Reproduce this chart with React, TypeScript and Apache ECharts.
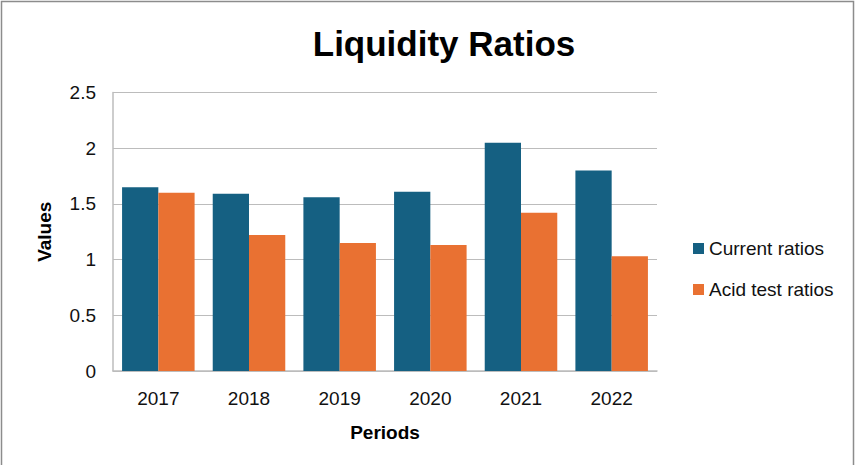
import React, { useEffect, useRef } from "react";
import * as echarts from "echarts";

const periods = ["2017", "2018", "2019", "2020", "2021", "2022"];
const currentRatios = [1.65, 1.59, 1.56, 1.61, 2.05, 1.8];
const acidTestRatios = [1.6, 1.22, 1.15, 1.13, 1.42, 1.03];
const seriesNames = ["Current ratios", "Acid test ratios"];

export default function App() {
  const ref = useRef<HTMLDivElement>(null);
  useEffect(() => {
    if (!ref.current) return;
    const chart = echarts.init(ref.current, undefined, { renderer: "svg" });
    const font = "'Liberation Sans', Arial, sans-serif";
    chart.setOption({
      animation: false,
      backgroundColor: "#ffffff",
      title: {
        text: "Liquidity Ratios",
        left: 439,
        textAlign: "center",
        top: 21,
        textStyle: { fontFamily: font, fontWeight: "bold", fontSize: 35, color: "#000" },
      },
      graphic: [
        {
          type: "rect",
          shape: { x: 1.5, y: 1.5, width: 852, height: 480 },
          style: { fill: "none", stroke: "#8c8c8c", lineWidth: 1.5 },
          silent: true,
        },
      ],
      legend: {
        orient: "vertical",
        left: 688,
        top: 234,
        itemGap: 22,
        itemWidth: 11,
        itemHeight: 11,
        icon: "rect",
        textStyle: { fontFamily: font, fontSize: 19, color: "#111", padding: [0, 0, 0, 0] },
        data: seriesNames,
      },
      grid: { left: 113, top: 92.5, right: 198, bottom: 94, containLabel: false },
      xAxis: {
        type: "category",
        data: periods,
        name: "Periods",
        nameLocation: "middle",
        nameGap: 52,
        nameTextStyle: { fontFamily: font, fontWeight: "bold", fontSize: 19, color: "#000" },
        axisLine: { lineStyle: { color: "#bcbcbc", width: 1.5 } },
        axisTick: { show: false },
        axisLabel: { fontFamily: font, fontSize: 19, color: "#111", margin: 18 },
      },
      yAxis: {
        type: "value",
        min: 0,
        max: 2.5,
        interval: 0.5,
        name: "Values",
        nameLocation: "middle",
        nameGap: 59,
        nameTextStyle: { fontFamily: font, fontWeight: "bold", fontSize: 19, color: "#000" },
        axisLine: { show: true, lineStyle: { color: "#bcbcbc", width: 1.5 } },
        axisTick: { show: false },
        splitLine: { lineStyle: { color: "#bcbcbc", width: 1.2 } },
        axisLabel: { fontFamily: font, fontSize: 19, color: "#111", margin: 17 },
      },
      series: [
        {
          name: seriesNames[0],
          type: "bar",
          data: currentRatios,
          itemStyle: { color: "#156082" },
          barGap: "0%",
          barCategoryGap: "20%",
        },
        {
          name: seriesNames[1],
          type: "bar",
          data: acidTestRatios,
          itemStyle: { color: "#E97132" },
          barGap: "0%",
          barCategoryGap: "20%",
        },
      ],
    });
    return () => chart.dispose();
  }, []);
  return (
    <div
      ref={ref}
      style={{ position: "fixed", left: 0, top: 0, width: 855, height: 465 }}
    />
  );
}
